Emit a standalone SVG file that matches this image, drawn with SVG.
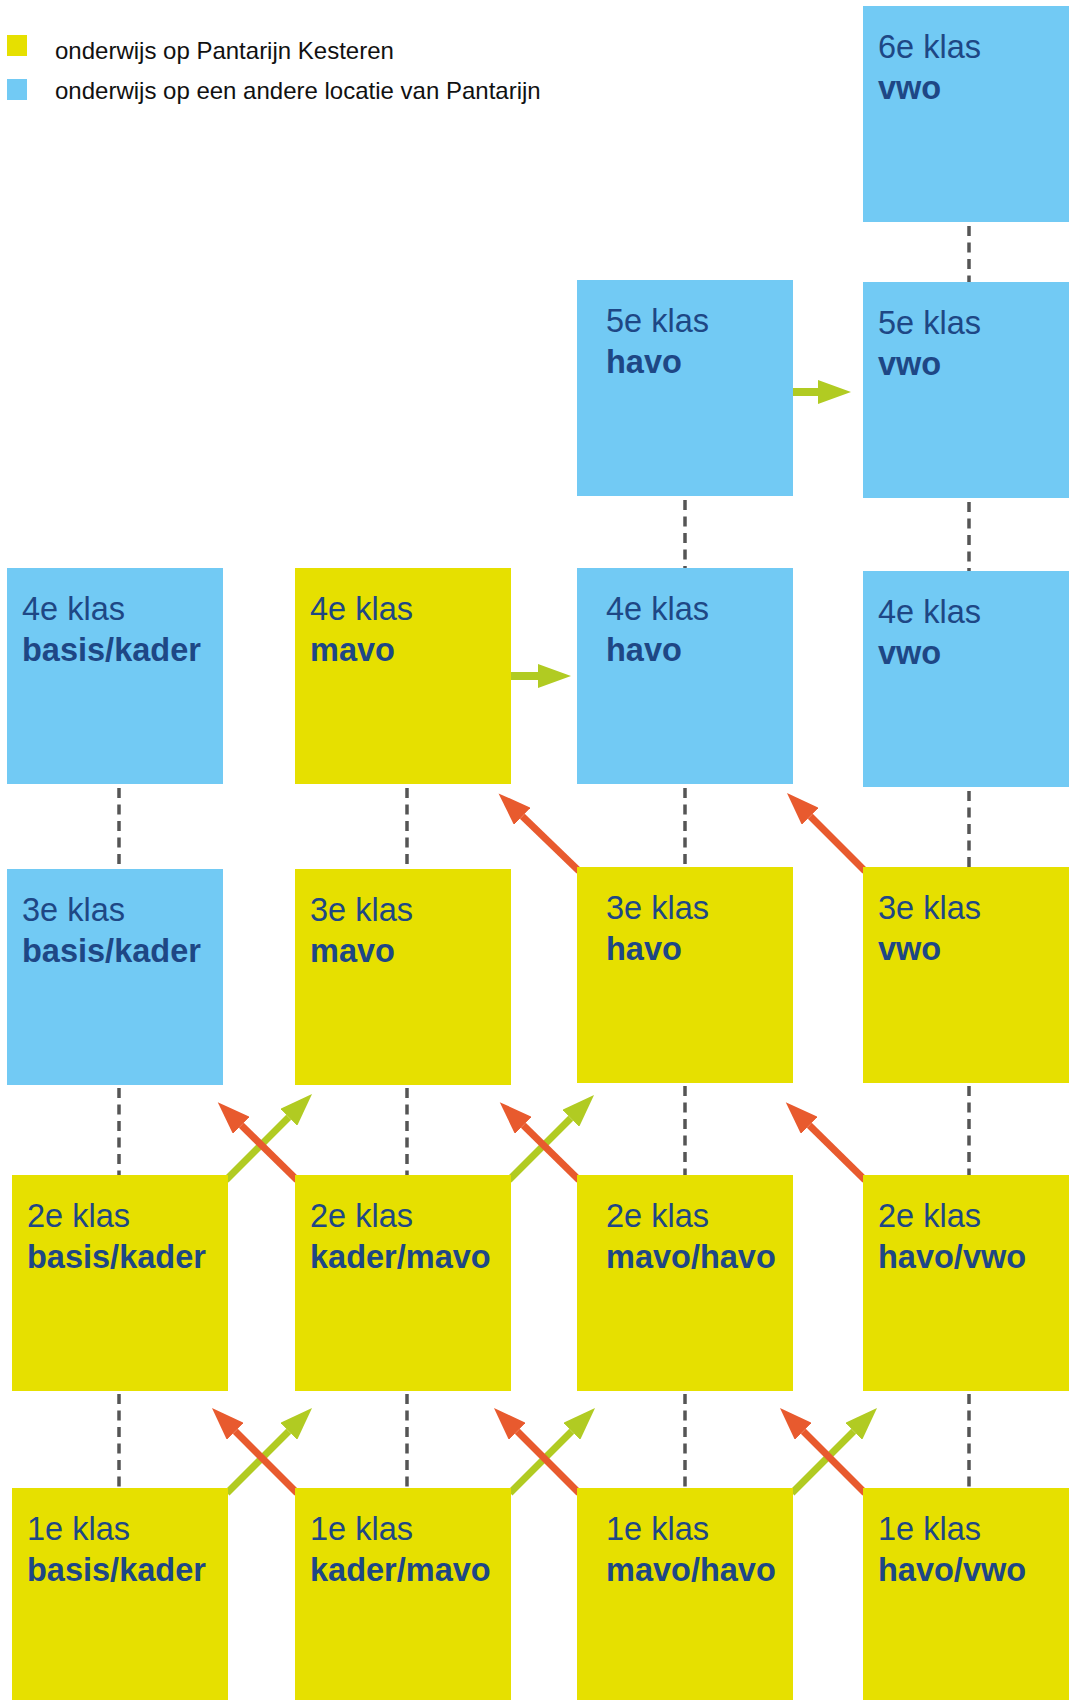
<svg xmlns="http://www.w3.org/2000/svg" width="1069" height="1700" viewBox="0 0 1069 1700">
<style>
.y{fill:#E6E000}
.b{fill:#72CAF4}
.t1{font-family:"Liberation Sans",Arial,sans-serif;font-size:32.5px;fill:#1E4785}
.t2{font-family:"Liberation Sans",Arial,sans-serif;font-size:32.5px;font-weight:bold;fill:#1E4785}
.lg{font-family:"Liberation Sans",Arial,sans-serif;font-size:24px;fill:#111}
.d{stroke:#555;stroke-width:3.5;stroke-dasharray:10 6.5;fill:none}
.g{stroke:#B1CB22;fill:none}
.r{stroke:#E85A2E;fill:none}
</style>
<defs>
<marker id="ag" viewBox="0 -12 33 24" refX="0" refY="0" markerWidth="33" markerHeight="24" markerUnits="userSpaceOnUse" orient="auto"><path d="M0,-12 L33,0 L0,12 Z" fill="#B1CB22"/></marker>
<marker id="ar" viewBox="0 -12 33 24" refX="0" refY="0" markerWidth="33" markerHeight="24" markerUnits="userSpaceOnUse" orient="auto"><path d="M0,-12 L33,0 L0,12 Z" fill="#E85A2E"/></marker>
</defs>
<rect width="1069" height="1700" fill="#fff"/>
<g id="legend">
<rect x="7" y="35" width="20" height="21" class="y"/>
<text x="55" y="59" class="lg">onderwijs op Pantarijn Kesteren</text>
<rect x="7" y="79" width="20" height="21" class="b"/>
<text x="55" y="99" class="lg">onderwijs op een andere locatie van Pantarijn</text>
</g>
<g id="connectors">
<line class="d" x1="969" y1="226" x2="969" y2="282"/>
<line class="d" x1="969" y1="502" x2="969" y2="571"/>
<line class="d" x1="969" y1="791" x2="969" y2="867"/>
<line class="d" x1="969" y1="1086" x2="969" y2="1175"/>
<line class="d" x1="969" y1="1394" x2="969" y2="1488"/>
<line class="d" x1="685" y1="500" x2="685" y2="568"/>
<line class="d" x1="685" y1="788" x2="685" y2="867"/>
<line class="d" x1="685" y1="1086" x2="685" y2="1175"/>
<line class="d" x1="685" y1="1394" x2="685" y2="1488"/>
<line class="d" x1="407" y1="788" x2="407" y2="869"/>
<line class="d" x1="407" y1="1088" x2="407" y2="1175"/>
<line class="d" x1="407" y1="1394" x2="407" y2="1488"/>
<line class="d" x1="119" y1="788" x2="119" y2="869"/>
<line class="d" x1="119" y1="1088" x2="119" y2="1175"/>
<line class="d" x1="119" y1="1394" x2="119" y2="1488"/>
<line class="g" stroke-width="8" x1="793" y1="392" x2="818" y2="392" marker-end="url(#ag)"/>
<line class="g" stroke-width="8" x1="511" y1="676" x2="538" y2="676" marker-end="url(#ag)"/>
<line class="r" stroke-width="7" x1="579" y1="871" x2="522.3" y2="816.3" marker-end="url(#ar)"/>
<line class="r" stroke-width="7" x1="865" y1="871" x2="810.3" y2="816.3" marker-end="url(#ar)"/>
<line class="g" stroke-width="7" x1="226" y1="1180" x2="288.7" y2="1117.3" marker-end="url(#ag)"/>
<line class="g" stroke-width="7" x1="509" y1="1180" x2="570.7" y2="1118.3" marker-end="url(#ag)"/>
<line class="r" stroke-width="7" x1="297" y1="1180" x2="241.3" y2="1125.3" marker-end="url(#ar)"/>
<line class="r" stroke-width="7" x1="579" y1="1180" x2="523.3" y2="1125.3" marker-end="url(#ar)"/>
<line class="r" stroke-width="7" x1="865" y1="1180" x2="809.3" y2="1125.3" marker-end="url(#ar)"/>
<line class="g" stroke-width="7" x1="227" y1="1493" x2="288.7" y2="1431.3" marker-end="url(#ag)"/>
<line class="g" stroke-width="7" x1="510" y1="1493" x2="571.7" y2="1431.3" marker-end="url(#ag)"/>
<line class="g" stroke-width="7" x1="792" y1="1493" x2="853.7" y2="1431.3" marker-end="url(#ag)"/>
<line class="r" stroke-width="7" x1="297" y1="1493" x2="235.3" y2="1431.3" marker-end="url(#ar)"/>
<line class="r" stroke-width="7" x1="579" y1="1493" x2="517.3" y2="1431.3" marker-end="url(#ar)"/>
<line class="r" stroke-width="7" x1="865" y1="1493" x2="803.3" y2="1431.3" marker-end="url(#ar)"/>
</g>
<g id="k6-vwo"><rect x="863" y="6" width="206" height="216" class="b"/><text x="878" y="58" class="t1">6e klas</text><text x="878" y="99" class="t2">vwo</text></g>
<g id="k5-havo"><rect x="577" y="280" width="216" height="216" class="b"/><text x="606" y="332" class="t1">5e klas</text><text x="606" y="373" class="t2">havo</text></g>
<g id="k5-vwo"><rect x="863" y="282" width="206" height="216" class="b"/><text x="878" y="334" class="t1">5e klas</text><text x="878" y="375" class="t2">vwo</text></g>
<g id="k4-basiskader"><rect x="7" y="568" width="216" height="216" class="b"/><text x="22" y="620" class="t1">4e klas</text><text x="22" y="661" class="t2">basis/kader</text></g>
<g id="k4-mavo"><rect x="295" y="568" width="216" height="216" class="y"/><text x="310" y="620" class="t1">4e klas</text><text x="310" y="661" class="t2">mavo</text></g>
<g id="k4-havo"><rect x="577" y="568" width="216" height="216" class="b"/><text x="606" y="620" class="t1">4e klas</text><text x="606" y="661" class="t2">havo</text></g>
<g id="k4-vwo"><rect x="863" y="571" width="206" height="216" class="b"/><text x="878" y="623" class="t1">4e klas</text><text x="878" y="664" class="t2">vwo</text></g>
<g id="k3-basiskader"><rect x="7" y="869" width="216" height="216" class="b"/><text x="22" y="921" class="t1">3e klas</text><text x="22" y="962" class="t2">basis/kader</text></g>
<g id="k3-mavo"><rect x="295" y="869" width="216" height="216" class="y"/><text x="310" y="921" class="t1">3e klas</text><text x="310" y="962" class="t2">mavo</text></g>
<g id="k3-havo"><rect x="577" y="867" width="216" height="216" class="y"/><text x="606" y="919" class="t1">3e klas</text><text x="606" y="960" class="t2">havo</text></g>
<g id="k3-vwo"><rect x="863" y="867" width="206" height="216" class="y"/><text x="878" y="919" class="t1">3e klas</text><text x="878" y="960" class="t2">vwo</text></g>
<g id="k2-basiskader"><rect x="12" y="1175" width="216" height="216" class="y"/><text x="27" y="1227" class="t1">2e klas</text><text x="27" y="1268" class="t2">basis/kader</text></g>
<g id="k2-kadermavo"><rect x="295" y="1175" width="216" height="216" class="y"/><text x="310" y="1227" class="t1">2e klas</text><text x="310" y="1268" class="t2">kader/mavo</text></g>
<g id="k2-mavohavo"><rect x="577" y="1175" width="216" height="216" class="y"/><text x="606" y="1227" class="t1">2e klas</text><text x="606" y="1268" class="t2">mavo/havo</text></g>
<g id="k2-havovwo"><rect x="863" y="1175" width="206" height="216" class="y"/><text x="878" y="1227" class="t1">2e klas</text><text x="878" y="1268" class="t2">havo/vwo</text></g>
<g id="k1-basiskader"><rect x="12" y="1488" width="216" height="212" class="y"/><text x="27" y="1540" class="t1">1e klas</text><text x="27" y="1581" class="t2">basis/kader</text></g>
<g id="k1-kadermavo"><rect x="295" y="1488" width="216" height="212" class="y"/><text x="310" y="1540" class="t1">1e klas</text><text x="310" y="1581" class="t2">kader/mavo</text></g>
<g id="k1-mavohavo"><rect x="577" y="1488" width="216" height="212" class="y"/><text x="606" y="1540" class="t1">1e klas</text><text x="606" y="1581" class="t2">mavo/havo</text></g>
<g id="k1-havovwo"><rect x="863" y="1488" width="206" height="212" class="y"/><text x="878" y="1540" class="t1">1e klas</text><text x="878" y="1581" class="t2">havo/vwo</text></g>
</svg>
